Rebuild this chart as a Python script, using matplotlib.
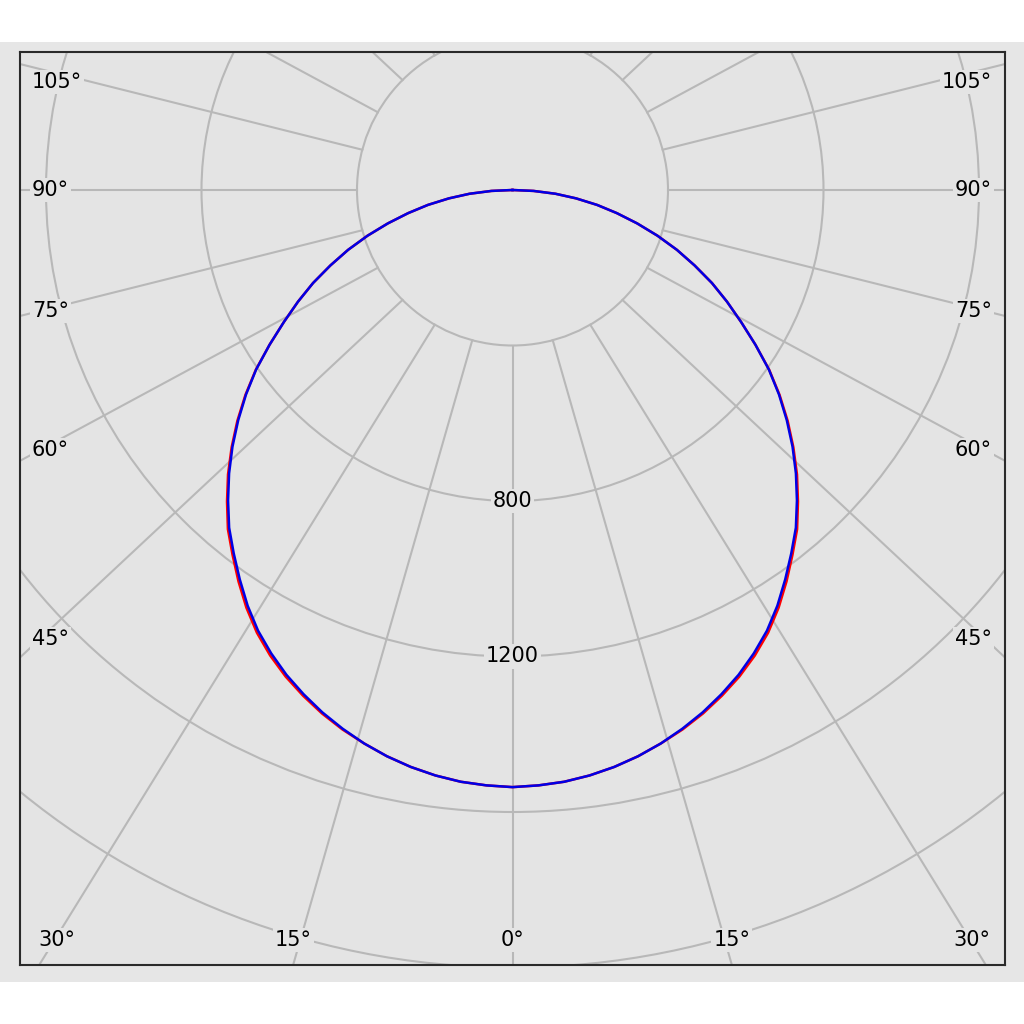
import numpy as np
import matplotlib
matplotlib.use("Agg")
import matplotlib.pyplot as plt
from matplotlib.patches import Rectangle, Circle

# luminous intensity (cd) vs angle from nadir (0..90, the distribution is symmetric)
gamma = [0, 2.5, 5, 7.5, 10, 12.5, 15, 17.5, 20, 22.5, 25, 27.5, 30, 32.5, 35, 37.5, 40, 42.5,
         45, 47.5, 50, 52.5, 55, 57.5, 60, 62.5, 65, 67.5, 70, 72.5, 75, 77.5, 80, 82.5, 85, 87.5, 90]
c0_c180 = [1536, 1533, 1528, 1519, 1507, 1492, 1474, 1455, 1433, 1408, 1381, 1350, 1315, 1274, 1229, 1183,
           1139, 1087, 1035, 980, 924, 866, 806, 741, 679, 622, 566, 507, 450, 391, 332, 275, 221, 165, 111, 54, 0]
c90_c270 = [1536, 1533, 1528, 1519, 1507, 1492, 1474, 1453, 1430, 1404, 1376, 1344, 1309, 1268, 1223, 1178,
            1134, 1083, 1031, 977, 921, 864, 805, 741, 679, 622, 566, 507, 450, 391, 332, 275, 221, 165, 111, 54, 0]

ring_values = [400, 800, 1200, 1600, 2000]
ring_labels = {800: "800", 1200: "1200"}
spoke_angles = list(range(0, 360, 15))
labelled = [-105, -90, -75, -60, -45, -30, -15, 0, 15, 30, 45, 60, 75, 90, 105]

bg = "#e4e4e4"
grid_col = "#b8b8b8"

fig = plt.figure(figsize=(10.24, 10.24), dpi=100)
fig.patch.set_facecolor("white")
fig.patches.append(Rectangle((0, 42 / 1024), 1, 940 / 1024, transform=fig.transFigure,
                             facecolor="#e6e6e6", edgecolor="none", zorder=-5))

ax = fig.add_axes([20 / 1024, 59 / 1024, 985 / 1024, 913 / 1024])
ax.set_zorder(5)
ax.set_facecolor(bg)
s = 155.5 / 400  # px per cd
ax.set_xlim(-492.5 / s, 492.5 / s)
ax.set_ylim(-775 / s, 138 / s)
ax.set_xticks([])
ax.set_yticks([])
for sp in ax.spines.values():
    sp.set_color("#2a2a2a")
    sp.set_linewidth(1.5)

# rings
for r in ring_values:
    ax.add_patch(Circle((0, 0), r, fill=False, edgecolor=grid_col, linewidth=1.5, zorder=1))

# spokes (drawn slightly flattened like the original software)
k = 1.07
for a in spoke_angles:
    t = np.radians(a)
    x0, y0 = 400 * np.sin(t), -400 * np.cos(t)
    dx, dy = k * np.sin(t), -np.cos(t)
    ax.plot([x0, x0 + 6000 * dx], [y0, y0 + 6000 * dy], color=grid_col, linewidth=1.5, zorder=1)

fs = 15
box = dict(facecolor=bg, edgecolor="none", pad=1.5)
xl, xr = ax.get_xlim()
yb, yt = ax.get_ylim()
for a in labelled:
    t = np.radians(abs(a))
    x0, y0 = 400 * np.sin(t), -400 * np.cos(t)
    dx, dy = k * np.sin(t), -np.cos(t)
    txt = "%d°" % abs(a)
    sign = 1 if a >= 0 else -1
    if abs(a) <= 30:
        ylab = yb + 25 / s
        xlab = x0 + (yb - y0) / dy * dx
        if xlab > xr - 40 / s:
            if sign > 0:
                ax.text(xr - 15 / s, ylab, txt, ha="right", va="center", fontsize=fs, bbox=box, zorder=3)
            else:
                ax.text(xl + 18 / s, ylab, txt, ha="left", va="center", fontsize=fs, bbox=box, zorder=3)
        else:
            ax.text(sign * xlab, ylab, txt, ha="center", va="center", fontsize=fs, bbox=box, zorder=3)
    else:
        xedge = xr - 20 / s
        ylab = y0 + (xedge - x0) / dx * dy
        ylab = min(ylab, yt - 30 / s)
        if sign > 0:
            ax.text(xr - 13 / s, ylab, txt, ha="right", va="center", fontsize=fs, bbox=box, zorder=3)
        else:
            ax.text(xl + 12 / s, ylab, txt, ha="left", va="center", fontsize=fs, bbox=box, zorder=3)

for r, lab in ring_labels.items():
    ax.text(0, -r, lab, ha="center", va="center", fontsize=fs, bbox=box, zorder=3)

# intensity curves, mirrored to both sides of the nadir
g = np.radians(np.concatenate([-np.array(gamma[::-1]), np.array(gamma[1:])]))
for vals, col, z in [(c0_c180, "#ff0000", 4), (c90_c270, "#0000e6", 5)]:
    I = np.concatenate([np.array(vals[::-1]), np.array(vals[1:])])
    ax.plot(I * np.sin(g), -I * np.cos(g), color=col, linewidth=1.8, zorder=z)

fig.savefig("out.png", dpi=100, facecolor=fig.get_facecolor())
